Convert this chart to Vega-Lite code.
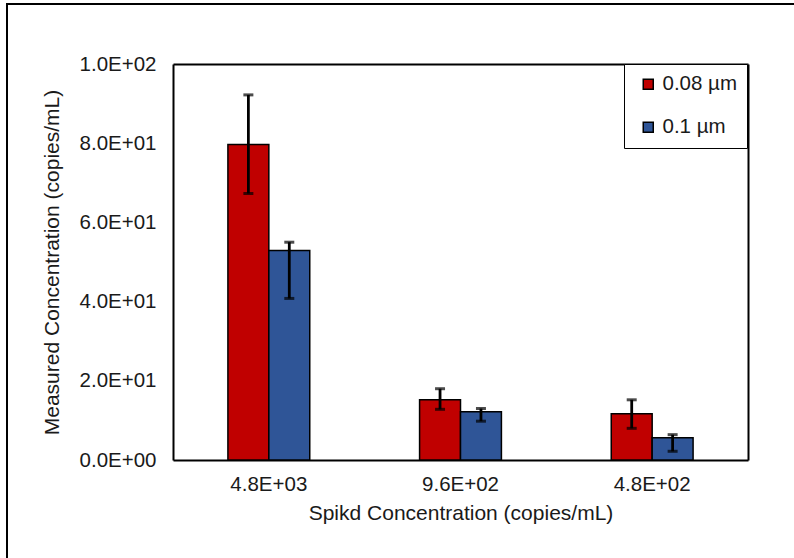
{
  "$schema": "https://vega.github.io/schema/vega-lite/v6.json",
  "width": 800,
  "height": 560,
  "autosize": {"type": "none"},
  "padding": {"left": 7, "top": 4, "right": -13, "bottom": -6},
  "background": "white",
  "config": {
    "font": "Liberation Sans",
    "view": {"stroke": "black", "strokeWidth": 2},
    "axis": {
      "domainColor": "black",
      "domainWidth": 2,
      "ticks": false,
      "grid": false,
      "labelFontSize": 20.5,
      "titleFontSize": 21,
      "titleFontWeight": "normal",
      "labelColor": "#1a1a1a",
      "titleColor": "#1a1a1a"
    },
    "legend": {
      "labelFontSize": 20.5,
      "labelColor": "#1a1a1a",
      "strokeColor": "black",
      "fillColor": "white"
    }
  },
  "data": {
    "values": [
      {"spiked": "4.8E+03", "size": "0.08 µm", "value": 79.7, "lo": 67.3, "hi": 92.2},
      {"spiked": "4.8E+03", "size": "0.1 µm", "value": 52.9, "lo": 40.8, "hi": 55.0},
      {"spiked": "9.6E+02", "size": "0.08 µm", "value": 15.2, "lo": 12.8, "hi": 18.0},
      {"spiked": "9.6E+02", "size": "0.1 µm", "value": 12.2, "lo": 9.8, "hi": 13.0},
      {"spiked": "4.8E+02", "size": "0.08 µm", "value": 11.7, "lo": 8.0, "hi": 15.2},
      {"spiked": "4.8E+02", "size": "0.1 µm", "value": 5.6, "lo": 2.2, "hi": 6.4}
    ]
  },
  "resolve": {"axis": {"x": "independent", "y": "independent"}},
  "layer": [
    {
      "mark": {"type": "bar", "stroke": "black", "strokeWidth": 1.5},
      "encoding": {
        "x": {
          "field": "spiked", "type": "nominal",
          "sort": ["4.8E+03", "9.6E+02", "4.8E+02"],
          "scale": {"range": [166, 741], "paddingInner": 0.573, "paddingOuter": 0.2865},
          "axis": {"orient": "bottom", "offset": -104, "labelAngle": 0, "labelPadding": 14, "title": "Spikd Concentration (copies/mL)", "titlePadding": 8}
        },
        "xOffset": {
          "field": "size", "type": "nominal",
          "sort": ["0.08 µm", "0.1 µm"],
          "scale": {"paddingInner": 0, "paddingOuter": 0}
        },
        "y": {
          "field": "value", "type": "quantitative",
          "scale": {"domain": [0, 100], "range": [456, 60], "nice": false},
          "axis": {"orient": "left", "offset": -166, "values": [0, 20, 40, 60, 80, 100], "labelPadding": 17, "labelExpr": "replace(upper(format(datum.value, '.1e')), 'E+', 'E+0')", "title": "Measured Concentration (copies/mL)", "titlePadding": 17}
        },
        "color": {
          "field": "size", "type": "nominal",
          "sort": ["0.08 µm", "0.1 µm"],
          "scale": {"domain": ["0.08 µm", "0.1 µm"], "range": ["#C00000", "#2F5597"]},
          "legend": {
            "title": null, "orient": "none", "legendX": 617, "legendY": 60,
            "padding": 10, "rowPadding": 22, "symbolType": "square", "symbolSize": 100,
            "symbolStrokeColor": "black", "symbolStrokeWidth": 1.5, "symbolOffset": 4, "labelOffset": 4
          }
        }
      }
    },
    {
      "mark": {"type": "rule", "color": "black", "strokeWidth": 2.8},
      "encoding": {
        "x": {
          "field": "spiked", "type": "nominal",
          "sort": ["4.8E+03", "9.6E+02", "4.8E+02"],
          "axis": {"orient": "top", "offset": -60, "labels": false, "title": null}
        },
        "xOffset": {"field": "size", "type": "nominal", "sort": ["0.08 µm", "0.1 µm"]},
        "y": {
          "field": "lo", "type": "quantitative",
          "axis": {"orient": "right", "offset": -59, "labels": false, "title": null}
        },
        "y2": {"field": "hi"}
      }
    },
    {
      "mark": {"type": "tick", "color": "black", "thickness": 3, "size": 10},
      "encoding": {
        "x": {"field": "spiked", "type": "nominal", "sort": ["4.8E+03", "9.6E+02", "4.8E+02"], "axis": null},
        "xOffset": {"field": "size", "type": "nominal", "sort": ["0.08 µm", "0.1 µm"]},
        "y": {"field": "lo", "type": "quantitative", "axis": null}
      }
    },
    {
      "mark": {"type": "tick", "color": "black", "thickness": 3, "size": 10},
      "encoding": {
        "x": {"field": "spiked", "type": "nominal", "sort": ["4.8E+03", "9.6E+02", "4.8E+02"], "axis": null},
        "xOffset": {"field": "size", "type": "nominal", "sort": ["0.08 µm", "0.1 µm"]},
        "y": {"field": "hi", "type": "quantitative", "axis": null}
      }
    }
  ]
}
